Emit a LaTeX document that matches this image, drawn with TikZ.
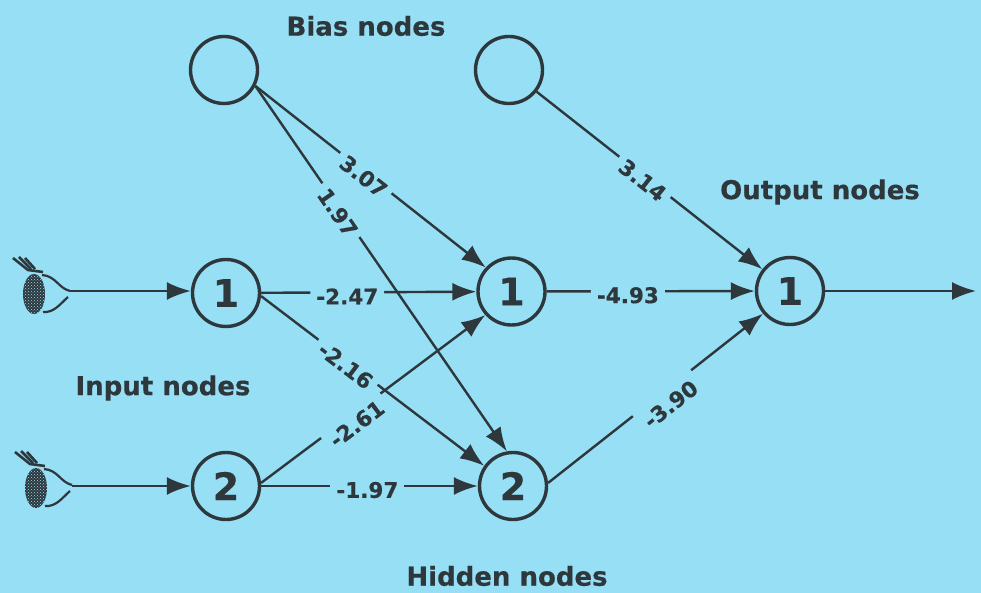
\documentclass[tikz,border=0pt]{standalone}
\usepackage{fontspec}
\setmainfont[BoldFeatures={FakeBold=0.4}]{DejaVu Sans}
\usetikzlibrary{arrows.meta,patterns}
\definecolor{skyback}{RGB}{150,223,245}
\definecolor{inkdark}{RGB}{45,55,60}
\tikzset{
  unit/.style={circle,draw=inkdark,line width=3.4pt,minimum size=67pt,inner sep=0pt,font=\bfseries\fontsize{38}{38}\selectfont,text=inkdark},
  weight/.style={fill=skyback,sloped,inner xsep=6pt,inner ysep=3pt,yshift=-4pt,font=\bfseries\fontsize{21.5}{21.5}\selectfont,text=inkdark},
  heading/.style={font=\bfseries\fontsize{26}{26}\selectfont,text=inkdark},
  link/.style={draw=inkdark,line width=2.4pt,-{Latex[length=24pt,width=18pt]}},
  lid/.style={draw=inkdark,line width=2.2pt},
  lash/.style={draw=inkdark,line width=2.6pt}
}
\begin{document}
\begin{tikzpicture}[x=1pt,y=-1pt]
\useasboundingbox (0,0) rectangle (981,593);
\fill[skyback] (0,0) rectangle (981,593);
% headings
\node[heading] (biasname) at (366,26) {Bias nodes};
\node[heading] (outname) at (820,192) {Output nodes};
\node[heading] (inname) at (163,388) {Input nodes};
\node[heading] (hidname) at (507,576) {Hidden nodes};
% units
\node[unit] (biasa) at (224,70) {};
\node[unit] (biasb) at (509,70) {};
\node[unit] (ina) at (226,293) {1};
\node[unit] (inb) at (226,486) {2};
\node[unit] (hida) at (511.5,291.5) {1};
\node[unit] (hidb) at (513,486) {2};
\node[unit] (outa) at (790,291) {1};
% eyes
\foreach \ex/\ey in {0/0,2/194}{
\begin{scope}[shift={(\ex,\ey)}]
\fill[inkdark] (34,294) ellipse (11 and 20);
\fill[pattern=crosshatch dots,pattern color=skyback] (34,294) ellipse (11 and 20);
\draw[lid] (42,275) .. controls (56,276) and (58,288) .. (70,291);
\draw[lid] (43,312) .. controls (54,313) and (60,304) .. (68,297);
\draw[lash] (13,258) -- (28,270) -- (43,272);
\draw[lash] (19,257) -- (31,269);
\draw[lash] (25,258) -- (35,269);
\end{scope}
}
\coordinate (eyea) at (70,291);
\coordinate (eyeb) at (72,486);
\coordinate (exit) at (976,291);
% links
\draw[link] (eyea) -- (ina.west |- eyea);
\draw[link] (eyeb) -- (inb.west);
\draw[link] (biasa.-27) -- node[weight,pos=.48] {3.07} (hida.137);
\draw[link] (biasa.-27) -- node[weight,pos=.34] {1.97} (hidb.100);
\draw[link] (biasb) -- node[weight,pos=.48] {3.14} (outa);
\draw[link] (ina) -- node[weight,pos=.4] {-2.47} (hida);
\draw[link] (ina.-5) -- node[weight,pos=.39] {-2.16} (hidb.145);
\draw[link] (inb.5) -- node[weight,pos=.4,yshift=-6pt,minimum height=36pt] {-2.61} (hida.-138);
\draw[link] (inb) -- node[weight,pos=.49] {-1.97} (hidb);
\draw[link] (hida) -- node[weight,pos=.39] {-4.93} (outa);
\draw[link] (hidb.5) -- node[weight,pos=.53,yshift=-10pt,minimum height=40pt] {-3.90} (outa.-140);
\draw[link] (outa) -- (exit);
\end{tikzpicture}
\end{document}
